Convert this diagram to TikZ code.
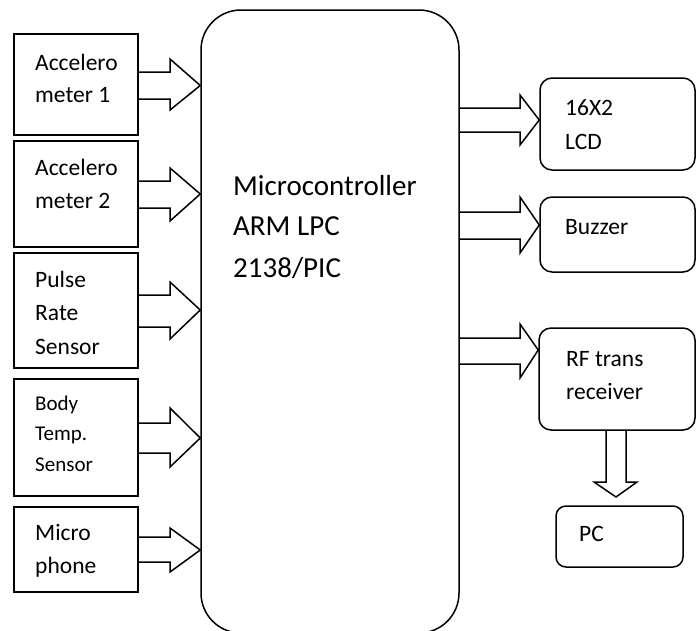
\documentclass[tikz,border=0pt]{standalone}
\usepackage{fontspec}
\setmainfont{Carlito}
\usetikzlibrary{calc}
\newcommand\harrow[8]{\draw[conn] (#1.east |- 0,#4) -- (#3,#4) -- (#3,#6) -- (#2.west |- 0,#8) -- (#3,#7) -- (#3,#5) -- (#1.east |- 0,#5);}
\begin{document}
\begin{tikzpicture}[x=1pt,y=-1pt,
  sbox/.style={draw,line width=1.5pt,inner sep=0pt,rectangle},
  rbox/.style={draw,line width=1.5pt,inner sep=0pt,rectangle,rounded corners=12pt},
  conn/.style={draw,line width=1.5pt,line join=miter},
  lbl/.style={inner sep=0pt,anchor=base west,font=\fontsize{23.5}{28}\selectfont},
  lbls/.style={inner sep=0pt,anchor=base west,font=\fontsize{21}{25}\selectfont},
  lblb/.style={inner sep=0pt,anchor=base west,font=\fontsize{29}{34}\selectfont}]
\useasboundingbox (0,0) rectangle (698,630);
% main controller
\node[draw,line width=1.5pt,rounded corners=40pt,minimum width=258pt,minimum height=623pt,inner sep=0pt] (mc) at (330,321.5) {};
% input boxes
\node[sbox,minimum width=124pt,minimum height=101pt] (b1) at (76,84.5) {};
\node[sbox,minimum width=124pt,minimum height=106pt] (b2) at (76,194) {};
\node[sbox,minimum width=124pt,minimum height=115pt] (b3) at (76,310.5) {};
\node[sbox,minimum width=124pt,minimum height=117pt] (b4) at (76,437.5) {};
\node[sbox,minimum width=124pt,minimum height=85pt] (b5) at (76,549.5) {};
% output boxes
\node[rbox,minimum width=155pt,minimum height=92pt] (lcd) at (617.5,124) {};
\node[rbox,minimum width=155pt,minimum height=75pt] (buz) at (617.5,234.5) {};
\node[rbox,minimum width=156pt,minimum height=102pt] (rf) at (617,379) {};
\node[rbox,rounded corners=10pt,minimum width=127pt,minimum height=61pt] (pc) at (619.5,536.5) {};
% texts
\node[lbl] (t1a) at (35,70) {Accelero};
\node[lbl] (t1b) at (35,102) {meter 1};
\node[lbl] (t2a) at (35,175) {Accelero};
\node[lbl] (t2b) at (35,208) {meter 2};
\node[lbl] (t3a) at (35,287) {Pulse};
\node[lbl] (t3b) at (35,320) {Rate};
\node[lbl] (t3c) at (35,354) {Sensor};
\node[lbls] (t4a) at (35,410) {Body};
\node[lbls] (t4b) at (35,440) {Temp.};
\node[lbls] (t4c) at (35,471) {Sensor};
\node[lbl] (t5a) at (35,540) {Micro};
\node[lbl] (t5b) at (35,573) {phone};
\node[lblb] (tma) at (233,195) {Microcontroller};
\node[lblb] (tmb) at (233,235) {ARM LPC};
\node[lblb] (tmc) at (233,277) {2138/PIC};
\node[lbl] (tla) at (565,115) {16X2};
\node[lbl] (tlb) at (565,149) {LCD};
\node[lbl] (tbz) at (565,234) {Buzzer};
\node[lbl] (tra) at (566,366) {RF trans};
\node[lbl] (trb) at (566,399) {receiver};
\node[lbl] (tpc) at (579,541) {PC};
% input arrows
\harrow{b1}{mc}{170}{72}{99}{59}{110}{85.5}
\harrow{b2}{mc}{170}{181}{208}{168}{221}{194}
\harrow{b3}{mc}{170}{295}{327}{282}{339}{310}
\harrow{b4}{mc}{170}{423}{453}{408}{467}{438}
\harrow{b5}{mc}{170}{537}{562}{528}{572}{550}
% output arrows
\harrow{mc}{lcd}{520}{108}{132}{95}{145}{120}
\harrow{mc}{buz}{520}{212}{239}{197}{253}{225}
\harrow{mc}{rf}{520}{338}{364}{324}{378}{350}
% down arrow to PC
\coordinate (dtip) at (616,497);
\draw[conn] (rf.south -| 606,0) -- (606,482) -- (594,482) -- (dtip) -- (637,482) -- (626,482) -- (rf.south -| 626,0);
\end{tikzpicture}
\end{document}
